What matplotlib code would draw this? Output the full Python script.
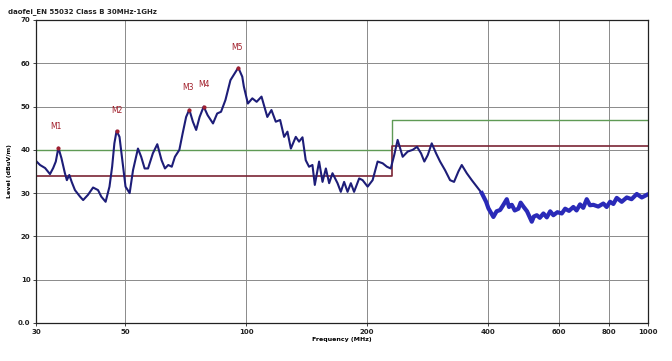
import matplotlib
matplotlib.use("Agg")
import matplotlib.pyplot as plt

# measured trace (MHz, dBuV/m)
freq = [30.1, 30.7, 31.6, 32.5, 33.1, 33.6, 34.1, 34.7, 35.4, 35.8, 36.3, 36.8, 37.5, 38.6, 39.3,
        40.4, 41.6, 42.8, 43.6, 44.7, 45.7, 46.4, 47.0, 47.6, 48.4, 49.2, 50.1, 51.3, 52.3, 53.8,
        54.8, 55.9, 57.0, 58.6, 60.1, 61.6, 62.8, 64.0, 65.3, 66.5, 68.2, 69.5, 70.9, 72.2, 73.7,
        75.1, 76.6, 78.4, 80.2, 82.7, 84.7, 86.6, 88.8, 91.4, 94.7, 95.6, 97.8, 98.7, 101.0,
        103.6, 106.2, 109.2, 112.9, 115.6, 118.5, 121.5, 124.3, 126.7, 129.2, 132.9, 135.4,
        138.1, 140.7, 143.4, 146.2, 148.2, 151.9, 154.9, 157.9, 160.9, 164.0, 168.8, 172.0,
        175.3, 178.8, 182.2, 185.6, 191.1, 194.9, 200.6, 206.4, 212.4, 218.6, 224.0, 229.0,
        233.6, 238.2, 245.2, 252.3, 259.7, 266.2, 272.4, 277.6, 283.1, 289.6, 296.9, 303.8,
        312.6, 321.7, 329.1, 337.4, 344.0, 354.0, 364.3, 375.0, 385.8, 395.5, 400.7, 412.3,
        420.0, 428.5, 436.0, 445.2, 451.0, 458.2, 466.0, 475.8, 482.0, 489.6, 500.0, 513.8,
        520.0, 528.7, 538.0, 549.2, 560.0, 571.0, 581.5, 595.0, 610.2, 622.0, 636.0, 651.9,
        664.0, 677.4, 690.0, 703.9, 717.0, 731.0, 752.0, 774.2, 789.0, 804.6, 820.0, 836.0,
        860.0, 885.4, 910.0, 937.6, 965.0, 992.9]
level = [37.3, 36.5, 35.8, 34.4, 35.8, 37.3, 40.5, 38.1, 34.6, 33.0, 34.2, 32.6, 30.7, 29.2, 28.4,
         29.6, 31.3, 30.7, 29.2, 28.0, 31.5, 36.1, 41.5, 44.4, 43.0, 37.6, 31.5, 30.0, 35.3, 40.3,
         38.4, 35.7, 35.7, 39.2, 41.3, 37.6, 35.7, 36.5, 36.1, 38.4, 40.0, 43.8, 47.6, 49.3, 46.5,
         44.6, 47.6, 50.0, 48.0, 46.1, 48.4, 48.8, 51.5, 56.1, 58.4, 59.0, 56.9, 54.6, 50.7,
         51.9, 51.1, 52.3, 47.6, 49.2, 46.5, 46.9, 43.0, 44.2, 40.3, 43.0, 41.9,
         42.9, 37.6, 36.1, 36.5, 31.9, 37.3, 32.6, 35.7, 32.3, 34.6, 32.3, 30.3,
         32.6, 30.3, 32.3, 30.3, 33.4, 33.0, 31.5, 33.0, 37.3, 36.9, 36.1, 35.7,
         38.8, 42.3, 38.4, 39.6, 40.0, 40.7, 39.2, 37.3, 38.8, 41.5, 39.2, 37.3,
         35.3, 33.0, 32.6, 35.0, 36.5, 34.6, 33.0, 31.5, 30.0, 28.0, 26.5, 24.5,
         25.8, 26.1, 27.2, 28.6, 26.8, 27.3, 26.0, 26.4, 27.8, 26.9, 25.8, 23.4,
         24.6, 24.9, 24.3, 25.3, 24.4, 25.8, 24.9, 25.6, 25.3, 26.4, 25.9, 26.8,
         26.0, 27.4, 26.6, 28.6, 27.2, 27.3, 26.9, 27.6, 26.8, 28.0, 27.5, 28.9,
         28.0, 29.0, 28.6, 29.8, 29.0, 29.6]

limit_f = [30, 230, 230, 1000]
limit_qp = [40, 40, 47, 47]
limit_margin = [34, 34, 41, 41]

mk_names = ["M1", "M2", "M3", "M4", "M5"]
mk_f = [34.1, 47.6, 72.2, 78.4, 95.6]
mk_lvl = [40.5, 44.4, 49.3, 50.0, 59.0]
lbl_f = [33.7, 47.6, 71.7, 78.7, 94.9]
lbl_lvl = [45.3, 49.2, 54.3, 55.0, 63.7]

xticks = [30, 50, 100, 200, 400, 600, 800, 1000]
yticks = [0, 10, 20, 30, 40, 50, 60, 70]

fig = plt.figure(figsize=(6.72, 3.61), dpi=100)
ax = fig.add_axes([0.0536, 0.1053, 0.9107, 0.8393])

ax.set_xscale("log")
ax.set_xlim(30, 1000)
ax.set_ylim(0, 70)
ax.minorticks_off()
ax.set_xticks(xticks)
ax.set_xticklabels([str(t) for t in xticks])
ax.set_yticks(yticks)
ax.set_yticklabels(["0.0"] + [str(t) for t in yticks[1:]])
ax.tick_params(labelsize=5, length=2.5, width=0.6, pad=1.5, colors="#222222")
for lab in ax.get_xticklabels() + ax.get_yticklabels():
    lab.set_fontweight("bold")
ax.grid(True, color="#8a8a8a", lw=0.7)
for s in ax.spines.values():
    s.set_linewidth(0.9)
    s.set_color("#222222")

ax.plot(limit_f, limit_qp, color="#5f9a55", lw=1.0)
ax.plot(limit_f, limit_margin, color="#7a2535", lw=1.2)

ax.plot(freq, level, color="#1d1d78", lw=1.5)
hi = [i for i, f in enumerate(freq) if f >= 385]
ax.plot([freq[i] for i in hi], [level[i] for i in hi], color="#2a2ab8", lw=3.0,
        solid_joinstyle="round")

ax.plot(mk_f, mk_lvl, "o", color="#a02030", ms=2)
for n, x, y in zip(mk_names, lbl_f, lbl_lvl):
    ax.text(x, y, n, color="#a01c28", fontsize=5.5, ha="center", va="center")

ax.set_xlabel("Frequency (MHz)", fontsize=4.5, fontweight="bold", labelpad=2)
ax.set_ylabel("Level (dBuV/m)", fontsize=4.5, fontweight="bold", labelpad=4)
fig.text(0.012, 0.978, "daofei_EN 55032 Class B 30MHz-1GHz", fontsize=5,
         fontweight="bold", va="top", color="#222222")

fig.savefig("out.png", dpi=100)
